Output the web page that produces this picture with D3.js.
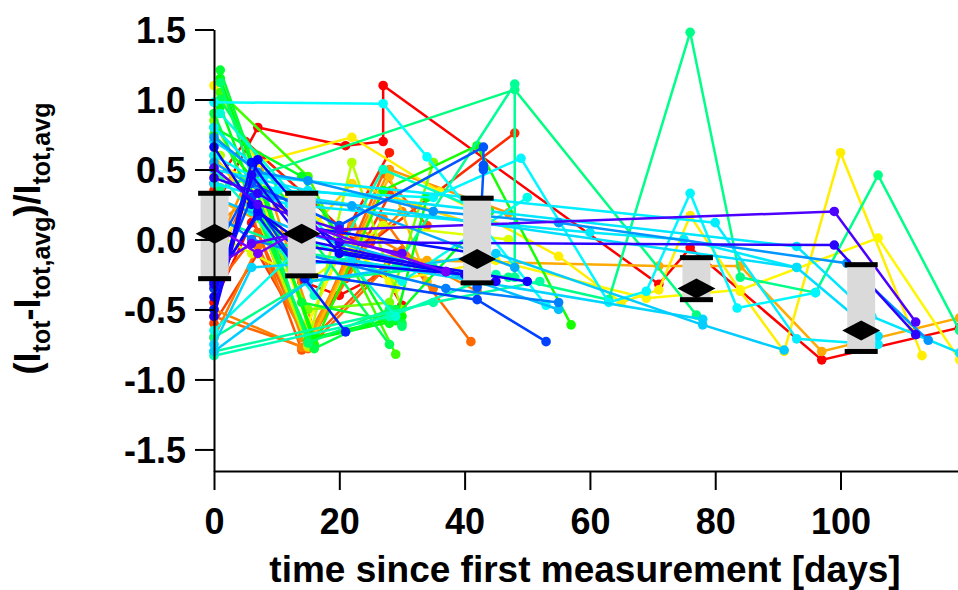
<!DOCTYPE html>
<html><head><meta charset="utf-8">
<script src="https://cdn.jsdelivr.net/npm/d3@7"></script>
<style>body{margin:0;background:#fff} svg{display:block}</style>
</head><body>
<svg id="chart" width="958" height="590"></svg>
<script>
const xTicks = [0, 20, 40, 60, 80, 100];
const yTicks = [-1.5, -1.0, -0.5, 0.0, 0.5, 1.0, 1.5];

// colour value of each source (hue, degrees on a red->violet rainbow)
const seriesHue = [0, 2, 6, 10, 14, 20, 22, 25, 28, 30, 32, 35, 40, 45, 50, 56, 58, 62, 68, 78, 92, 105,
  115, 120, 124, 128, 132, 136, 140, 145, 150, 152, 155, 158, 162, 166, 170, 175, 180, 182, 184, 185, 186,
  188, 190, 192, 195, 200, 205, 210, 225, 220, 232, 236, 238, 242, 244, 246, 250, 258, 262, 268];

// [day, (Itot-Itot,avg)/Itot,avg] for each source
const seriesPoints = [
  [[0,0.22],[7,0.8],[21,0.67],[27,0.70],[27,1.10],[71,-0.32],[76,-0.06],[97,-0.86],[119,-0.63]],
  [[0,-0.45],[6,0.12],[14,-0.3],[20,-0.4],[27,-0.24],[30,-0.47]],
  [[0,0.4],[5,0.7],[15,0.3],[21,0.05],[28,0.62]],
  [[0,0.35],[6,0.45],[14,0.1],[25,-0.02],[48,0.76]],
  [[0,-0.6],[7,-0.1],[15,-0.72],[21,-0.28],[28,0.32]],
  [[0,-0.2],[5,0.3],[14,-0.79],[29,-0.1]],
  [[0,-0.35],[7,0.05],[15,-0.76],[27,0.47],[34,0.1]],
  [[0,-0.55],[15,-0.78],[30,-0.08],[41,-0.73]],
  [[0,-0.7],[7,-0.05],[15,-0.75],[27,0.15],[35,-0.35]],
  [[0,-0.5],[14,-0.77],[21,-0.2],[30,0.2]],
  [[0,0.1],[6,0.3],[14,-0.7],[22,0.1],[42,-0.37]],
  [[1,0.0],[7,0.6],[16,-0.65],[28,0.5],[47,0.19]],
  [[0,0.3],[15,-0.05],[34,-0.15],[71,-0.19],[84,-0.19],[97,-0.8],[119,-0.56]],
  [[0,0.6],[7,0.2],[15,-0.77],[28,0.45],[34,-0.3]],
  [[0,0.45],[6,0.4],[15,0.05],[22,0.4],[42,0.1]],
  [[0,1.1],[7,0.55],[22,0.73],[36,0.34],[55,-0.12],[65,-0.45],[71,-0.36],[76,0.17],[84,-0.37],[91,-0.8],[100,0.62],[113,-0.83]],
  [[0,0.55],[14,0.25],[28,-0.3],[45,-0.15],[69,-0.42],[84,-0.36],[106,0.01],[119,-0.86]],
  [[0,-0.1],[7,0.35],[15,-0.6],[21,0.0],[29,-0.35]],
  [[0,0.05],[6,-0.1],[15,-0.3],[27,0.1],[47,0.0]],
  [[1,0.6],[7,0.15],[15,-0.76],[22,0.55],[30,-0.5]],
  [[0,0.85],[15,-0.5],[28,-0.45],[35,0.55]],
  [[1,1.05],[15,0.45],[29,-0.82]],
  [[0,0.75],[8,0.35],[16,-0.75],[27,0.35],[42,0.67],[57,-0.61]],
  [[1,1.15],[16,-0.7],[30,-0.55]],
  [[1,0.95],[15,-0.72],[29,-0.58],[34,0.3]],
  [[0,0.8],[14,0.45],[28,-0.6],[44,0.2]],
  [[1,1.21],[14,-0.45],[30,-0.6]],
  [[0,0.9],[16,-0.78],[29,-0.5]],
  [[1,1.0],[14,0.1],[28,-0.75]],
  [[1,1.12],[15,-0.74],[28,-0.5],[30,-0.62]],
  [[1,0.37],[48,1.07],[77,-0.54]],
  [[0,-0.7],[15,-0.3],[35,-0.2],[47,-0.27],[63,-0.43],[76,1.48],[84,-0.27],[96,-0.38],[106,0.46],[119,-0.65]],
  [[0,0.15],[15,-0.1],[29,-0.2],[48,1.11],[48,-0.27]],
  [[0,-0.8],[35,-0.45],[52,-0.3]],
  [[0,-0.83],[28,-0.55],[45,-0.25]],
  [[0,0.5],[6,0.2],[16,-0.4],[27,0.5],[43,0.2]],
  [[1,0.9],[15,0.2],[29,-0.55]],
  [[0,-0.65],[15,0.0],[30,-0.3],[50,0.3]],
  [[0,0.98],[27,0.97],[34,0.59],[53,-0.47]],
  [[0,0.6],[10,0.35],[35,0.3],[49,0.58],[63,-0.45],[69,-0.37],[76,0.33],[83.5,-0.49],[96,-0.38]],
  [[0,0.8],[8,0.45],[80,0.12],[93,-0.71],[106,-0.75]],
  [[0,0.4],[12,0.25],[60,0.05],[75,0.0],[93,-0.2]],
  [[0,0.5],[15,0.35],[93,-0.05],[105,-0.55],[119,-0.81]],
  [[0,0.7],[14,0.3],[93,-0.2],[106,-0.69]],
  [[0,-0.75],[6,-0.2],[22,-0.15],[78,-0.57]],
  [[0,-0.8],[15,-0.3],[45,-0.1],[78,-0.61],[91,-0.79]],
  [[0,0.3],[14,0.05],[42,-0.3],[55,-0.5]],
  [[0,0.55],[9,0.3],[22,0.24],[48,-0.2]],
  [[0,0.73],[7,0.48],[15,0.42],[35,0.2],[55,0.12],[101,-0.17],[114,-0.72]],
  [[0,0.2],[6,0.0],[14,-0.1],[37,-0.35],[55,-0.45]],
  [[0,-0.35],[6,0.3],[14,-0.24],[42,-0.43],[53,-0.73]],
  [[0,-0.1],[6,0.4],[20,0.1],[43,0.66],[43,0.53],[43,0.5],[42,-0.34]],
  [[0,-0.3],[7,0.17],[14.5,-0.28],[21,-0.66]],
  [[0,-0.5],[6,0.55],[13,0.1],[42,-0.1]],
  [[0,0.66],[6,0.25],[15,-0.15],[40,-0.25]],
  [[0,-0.41],[7,0.57],[20,-0.1],[37,-0.23]],
  [[0,-0.32],[7,0.2],[15,-0.05],[50,-0.3]],
  [[0,-0.55],[6,0.46],[14,0.0],[45,-0.3]],
  [[0,0.44],[7,0.33],[20,-0.02],[99,-0.04],[112,-0.68]],
  [[0,0.51],[7,0.25],[20,0.07],[99,0.2],[112,-0.59]],
  [[0,-0.2],[6,-0.03],[14,0.05],[30,-0.1]],
  [[0,0.1],[7,-0.1],[15,0.1],[37,-0.23]]
];

// summary boxes per time bin
const boxDays  = [0.1, 14, 42, 77, 103.3];
const boxUpper = [0.33, 0.33, 0.295, -0.13, -0.18];
const boxLower = [-0.28, -0.26, -0.31, -0.43, -0.80];
const boxMean  = [0.04, 0.04, -0.14, -0.35, -0.65];

const svg = d3.select('#chart');
const x = d3.scaleLinear().domain([0, 118.75]).range([214, 958]);
const y = d3.scaleLinear().domain([-1.654, 1.5]).range([471, 29.5]);
const color = h => d3.hsl(h, 1, 0.5).toString();
const FONT = '"Liberation Sans", Arial, Helvetica, sans-serif';

// data lines
const gData = svg.append('g');
seriesPoints.forEach((pts, i) => {
  const c = color(seriesHue[i]);
  const g = gData.append('g');
  g.append('path')
    .attr('d', d3.line().x(d => x(d[0])).y(d => y(d[1]))(pts))
    .attr('fill', 'none').attr('stroke', c).attr('stroke-width', 2.5);
  g.selectAll('circle').data(pts).join('circle')
    .attr('cx', d => x(d[0])).attr('cy', d => y(d[1])).attr('r', 4.8).attr('fill', c);
});

// boxes
const gBox = svg.append('g');
boxDays.forEach((d, i) => {
  const cx = x(d);
  gBox.append('rect').attr('x', cx - 14).attr('width', 28)
    .attr('y', y(boxUpper[i])).attr('height', y(boxLower[i]) - y(boxUpper[i]))
    .attr('fill', '#dadada');
  [boxUpper[i], boxLower[i]].forEach(v => {
    gBox.append('rect').attr('x', cx - 16.5).attr('width', 33)
      .attr('y', y(v) - 2.5).attr('height', 5).attr('fill', '#000');
  });
  const my = y(boxMean[i]);
  gBox.append('path')
    .attr('d', `M${cx - 19},${my}L${cx},${my - 10}L${cx + 19},${my}L${cx},${my + 10}Z`)
    .attr('fill', '#000');
});

// axes
const xAxis = svg.append('g').attr('transform', 'translate(0,471)')
  .call(d3.axisBottom(x).tickValues(xTicks).tickSize(19).tickSizeOuter(0).tickPadding(18).tickFormat(d3.format('d')));
const yAxis = svg.append('g').attr('transform', 'translate(214,0)')
  .call(d3.axisLeft(y).tickValues(yTicks).tickSize(19).tickSizeOuter(0).tickPadding(9).tickFormat(v => v.toFixed(1)));
[xAxis, yAxis].forEach(a => {
  a.selectAll('path,line').attr('stroke', '#000').attr('stroke-width', 2);
  a.selectAll('text').attr('fill', '#000').attr('font-family', FONT)
    .attr('font-weight', 'bold').attr('font-size', 36);
});
xAxis.selectAll('text').attr('dy', '0.71em');
yAxis.selectAll('text').attr('dy', '0.36em');

// axis titles
svg.append('text').attr('x', 585).attr('y', 582).attr('text-anchor', 'middle')
  .attr('font-family', FONT).attr('font-weight', 'bold').attr('font-size', 37)
  .text('time since first measurement [days]');

const yt = svg.append('text').attr('transform', 'translate(40,238.5) rotate(-90)')
  .attr('text-anchor', 'middle').attr('font-family', FONT).attr('font-weight', 'bold').attr('font-size', 36);
const parts = [['(I', false], ['tot', true], ['-I', false], ['tot,avg', true], [')/I', false], ['tot,avg', true]];
let shifted = false;
parts.forEach(([t, sub]) => {
  const ts = yt.append('tspan').text(t);
  if (sub && !shifted) { ts.attr('dy', 10); shifted = true; }
  else if (!sub && shifted) { ts.attr('dy', -10); shifted = false; }
  if (sub) ts.attr('font-size', 25);
});
</script>
</body></html>
